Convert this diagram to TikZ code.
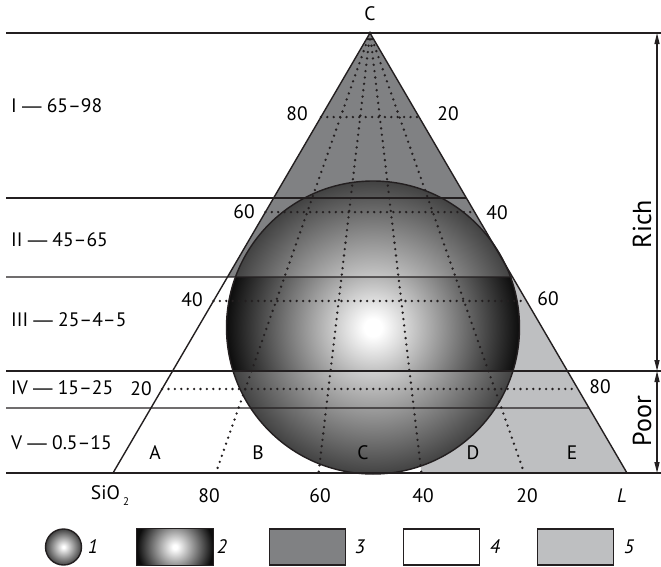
\documentclass[tikz,border=0pt]{standalone}
\usepackage{fontspec}
\setmainfont{PT Sans}
\newfontfamily\dashfont{Liberation Sans}
\usepackage{tikz}
\usetikzlibrary{arrows.meta,calc}
\definecolor{darkfill}{HTML}{808183}
\definecolor{lightfill}{HTML}{BEBFC1}
\definecolor{ink}{HTML}{231F20}
\pgfdeclareradialshading{ballshade}{\pgfpoint{0bp}{0bp}}{color(0bp)=(white); color(1.5bp)=(white); color(25bp)=(black!74); color(50bp)=(black!74)}
\pgfdeclareradialshading{bandshade}{\pgfpoint{0bp}{0bp}}{color(0bp)=(white); color(1.5bp)=(white); color(25bp)=(black!95); color(50bp)=(black!95)}
\newcommand{\bandsep}{{\dashfont —}}

\begin{document}
\begin{tikzpicture}[x=1pt,y=-1pt,
  rule/.style={draw=ink,line width=1.4pt},
  grid/.style={draw=ink,line width=2.6pt,line cap=round,dash pattern=on 0pt off 6.4pt},
  lbl/.style={inner sep=0pt,font=\fontsize{19.5}{22}\selectfont},
  key/.style={draw=ink,line width=1.4pt,minimum width=76pt,minimum height=36pt,inner sep=0pt},
  dim/.style={draw=ink,line width=1.3pt,{Triangle[length=11pt,width=5pt]}-{Triangle[length=11pt,width=5pt]}}]
  \useasboundingbox (0,0) rectangle (661,566);
  % triangle corners and sphere centre
  \coordinate (top) at (370,33);
  \coordinate (left) at (113,473);
  \coordinate (right) at (627,473);
  \coordinate (ctr) at (373,327.5);
  \coordinate (b40) at ($(left)!.6!(right)$);
  % fills: bands I-II dark, right part of III-V light
  \fill[darkfill] (top) -- ($(top)!.5545!(left)$) -- ($(top)!.5545!(right)$) -- cycle;
  \fill[lightfill] ($(top)!.5545!(b40)$) -- ($(top)!.5545!(right)$) -- (right) -- (b40) -- cycle;
  % sphere
  \shade[shading=ballshade] (ctr) circle (146.5pt);
  \begin{scope}
    \clip (ctr) circle (146.5pt);
    \clip (0,277) rectangle (661,371);
    \shade[shading=bandshade] (ctr) circle (146.5pt);
  \end{scope}
  \draw[ink,line width=1.4pt] (ctr) circle (146.5pt);
  % dotted grid
  \foreach \t in {.191,.407,.609,.809}
    \draw[grid] ($(top)!\t!(left)$) -- ($(top)!\t!(right)$);
  \foreach \t in {.2,.4,.6,.8}
    \draw[grid] (top) -- ($(left)!\t!(right)$);
  \draw[ink,line width=1.4pt,line join=miter] (top) -- (left) -- (right) -- cycle;
  % band borders
  \draw[rule] (6,33) -- (661,33);
  \foreach \t/\y in {.375/198,.5545/277,.8523/408}
    \draw[rule] (6,\y) -- ($(top)!\t!(right)$);
  \draw[rule] (6,371) -- (661,371);
  \draw[rule] (6,473) -- (661,473);
  % band names
  \node[lbl,anchor=west] (bandI) at (11,106) {I \bandsep{} 65–98};
  \node[lbl,anchor=west] (bandII) at (11,240) {II \bandsep{} 45–65};
  \node[lbl,anchor=west] (bandIII) at (11,320) {III \bandsep{} 25–4–5};
  \node[lbl,anchor=west] (bandIV) at (11,388) {IV \bandsep{} 15–25};
  \node[lbl,anchor=west] (bandV) at (11,443) {V \bandsep{} 0.5–15};
  % scale values
  \node[lbl] (capex) at (370,14) {C};
  \node[lbl] (l80) at (297,114) {80};
  \node[lbl] (r20) at (448,114) {20};
  \node[lbl] (l60) at (244,212) {60};
  \node[lbl] (r40) at (497,213) {40};
  \node[lbl] (l40) at (192,300) {40};
  \node[lbl] (r60) at (548,299) {60};
  \node[lbl] (l20) at (141,389) {20};
  \node[lbl] (r80) at (600,387) {80};
  \node[lbl] (zA) at (155,453) {A};
  \node[lbl] (zB) at (258,453) {B};
  \node[lbl] (zC) at (363,453) {C};
  \node[lbl] (zD) at (473,453) {D};
  \node[lbl] (zE) at (572,453) {E};
  \node[lbl] (sio) at (110,496) {SiO\,\raisebox{-6pt}{\fontsize{11}{11}\selectfont 2}};
  \node[lbl] (s80) at (209,496) {80};
  \node[lbl] (s60) at (320,496) {60};
  \node[lbl] (s40) at (423,496) {40};
  \node[lbl] (s20) at (527,496) {20};
  \node[lbl,font=\fontsize{19.5}{22}\selectfont\itshape] (sl) at (622,496) {L};
  % rich / poor
  \coordinate (richtop) at (657,33);
  \coordinate (split) at (657,371);
  \coordinate (poorbot) at (657,473);
  \draw[dim] (richtop) -- (split);
  \draw[dim] (split) -- (poorbot);
  \node[lbl,rotate=90,font=\fontsize{26}{28}\selectfont] (rich) at (642,224) {Rich};
  \node[lbl,rotate=90,font=\fontsize{26}{28}\selectfont] (poor) at (642,421) {Poor};
  % legend
  \node[circle,draw=ink,line width=1.4pt,minimum size=36pt,inner sep=0pt,shading=ballshade] (k1) at (63.5,547) {};
  \node[key,draw=none,path picture={\shade[shading=bandshade] ([shift={(-38pt,-38pt)}]path picture bounding box.center) rectangle ([shift={(38pt,38pt)}]path picture bounding box.center);}] (k2) at (175,547) {};
  \draw[ink,line width=1.4pt] (k2.south west) rectangle (k2.north east);
  \node[key,fill=darkfill] (k3) at (307.5,547) {};
  \node[key,fill=white] (k4) at (441.5,547) {};
  \node[key,fill=lightfill] (k5) at (575.5,547) {};
  \node[lbl,font=\fontsize{19.5}{22}\selectfont\itshape] (n1) at (93,547) {1};
  \node[lbl,font=\fontsize{19.5}{22}\selectfont\itshape] (n2) at (222,547) {2};
  \node[lbl,font=\fontsize{19.5}{22}\selectfont\itshape] (n3) at (360,547) {3};
  \node[lbl,font=\fontsize{19.5}{22}\selectfont\itshape] (n4) at (495,547) {4};
  \node[lbl,font=\fontsize{19.5}{22}\selectfont\itshape] (n5) at (629,547) {5};
\end{tikzpicture}
\end{document}
